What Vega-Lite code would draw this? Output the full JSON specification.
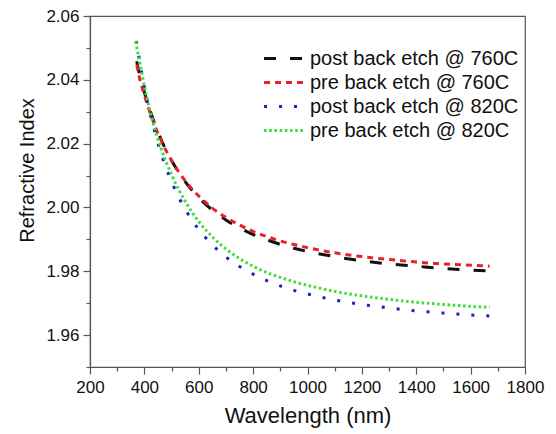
{
  "$schema": "https://vega.github.io/schema/vega-lite/v6.json",
  "width": 435,
  "height": 351,
  "autosize": {"type": "none"},
  "padding": {"left": 90, "top": 16, "right": 31, "bottom": 67},
  "background": "white",
  "config": {
    "font": "Liberation Sans",
    "view": {"stroke": "#555555", "strokeWidth": 1.2},
    "axis": {
      "grid": false,
      "domainColor": "#555555",
      "domainWidth": 1.2,
      "tickColor": "#555555",
      "tickWidth": 1.2,
      "labelColor": "#111111",
      "titleColor": "#111111",
      "labelFont": "Liberation Sans",
      "titleFont": "Liberation Sans",
      "titleFontWeight": "normal",
      "labelOverlap": false,
      "labelFlush": false
    },
    "legend": {
      "labelFont": "Liberation Sans",
      "labelFontSize": 20,
      "labelColor": "#111111",
      "labelLimit": 0,
      "symbolType": "M-1.63,0H1.63",
      "symbolSize": 600,
      "symbolStrokeWidth": 3,
      "symbolFillColor": "transparent",
      "labelOffset": 12,
      "rowPadding": 0,
      "padding": 0
    }
  },
  "data": {
    "values": [
      {"series": "post back etch @ 760C", "wl": 372, "n": 2.0458},
      {"series": "post back etch @ 760C", "wl": 380, "n": 2.0425},
      {"series": "post back etch @ 760C", "wl": 390, "n": 2.0392},
      {"series": "post back etch @ 760C", "wl": 400, "n": 2.0361},
      {"series": "post back etch @ 760C", "wl": 420, "n": 2.0306},
      {"series": "post back etch @ 760C", "wl": 440, "n": 2.0258},
      {"series": "post back etch @ 760C", "wl": 460, "n": 2.0216},
      {"series": "post back etch @ 760C", "wl": 480, "n": 2.0179},
      {"series": "post back etch @ 760C", "wl": 500, "n": 2.0147},
      {"series": "post back etch @ 760C", "wl": 525, "n": 2.0112},
      {"series": "post back etch @ 760C", "wl": 550, "n": 2.0081},
      {"series": "post back etch @ 760C", "wl": 575, "n": 2.0054},
      {"series": "post back etch @ 760C", "wl": 600, "n": 2.0031},
      {"series": "post back etch @ 760C", "wl": 650, "n": 1.9992},
      {"series": "post back etch @ 760C", "wl": 700, "n": 1.9961},
      {"series": "post back etch @ 760C", "wl": 750, "n": 1.9936},
      {"series": "post back etch @ 760C", "wl": 800, "n": 1.9915},
      {"series": "post back etch @ 760C", "wl": 850, "n": 1.9899},
      {"series": "post back etch @ 760C", "wl": 900, "n": 1.9884},
      {"series": "post back etch @ 760C", "wl": 950, "n": 1.9872},
      {"series": "post back etch @ 760C", "wl": 1000, "n": 1.9862},
      {"series": "post back etch @ 760C", "wl": 1100, "n": 1.9846},
      {"series": "post back etch @ 760C", "wl": 1200, "n": 1.9833},
      {"series": "post back etch @ 760C", "wl": 1300, "n": 1.9823},
      {"series": "post back etch @ 760C", "wl": 1400, "n": 1.9816},
      {"series": "post back etch @ 760C", "wl": 1500, "n": 1.9809},
      {"series": "post back etch @ 760C", "wl": 1600, "n": 1.9804},
      {"series": "post back etch @ 760C", "wl": 1680, "n": 1.9801},

      {"series": "pre back etch @ 760C", "wl": 372, "n": 2.0448},
      {"series": "pre back etch @ 760C", "wl": 380, "n": 2.0413},
      {"series": "pre back etch @ 760C", "wl": 390, "n": 2.0381},
      {"series": "pre back etch @ 760C", "wl": 400, "n": 2.0352},
      {"series": "pre back etch @ 760C", "wl": 420, "n": 2.0299},
      {"series": "pre back etch @ 760C", "wl": 440, "n": 2.0253},
      {"series": "pre back etch @ 760C", "wl": 460, "n": 2.0213},
      {"series": "pre back etch @ 760C", "wl": 480, "n": 2.0178},
      {"series": "pre back etch @ 760C", "wl": 500, "n": 2.0147},
      {"series": "pre back etch @ 760C", "wl": 525, "n": 2.0113},
      {"series": "pre back etch @ 760C", "wl": 550, "n": 2.0084},
      {"series": "pre back etch @ 760C", "wl": 575, "n": 2.0058},
      {"series": "pre back etch @ 760C", "wl": 600, "n": 2.0036},
      {"series": "pre back etch @ 760C", "wl": 650, "n": 1.9998},
      {"series": "pre back etch @ 760C", "wl": 700, "n": 1.9969},
      {"series": "pre back etch @ 760C", "wl": 750, "n": 1.9945},
      {"series": "pre back etch @ 760C", "wl": 800, "n": 1.9925},
      {"series": "pre back etch @ 760C", "wl": 850, "n": 1.9909},
      {"series": "pre back etch @ 760C", "wl": 900, "n": 1.9895},
      {"series": "pre back etch @ 760C", "wl": 950, "n": 1.9884},
      {"series": "pre back etch @ 760C", "wl": 1000, "n": 1.9874},
      {"series": "pre back etch @ 760C", "wl": 1100, "n": 1.9858},
      {"series": "pre back etch @ 760C", "wl": 1200, "n": 1.9846},
      {"series": "pre back etch @ 760C", "wl": 1300, "n": 1.9837},
      {"series": "pre back etch @ 760C", "wl": 1400, "n": 1.9829},
      {"series": "pre back etch @ 760C", "wl": 1500, "n": 1.9823},
      {"series": "pre back etch @ 760C", "wl": 1600, "n": 1.9819},
      {"series": "pre back etch @ 760C", "wl": 1670, "n": 1.9816},

      {"series": "post back etch @ 820C", "wl": 370, "n": 2.0522},
      {"series": "post back etch @ 820C", "wl": 380, "n": 2.0472},
      {"series": "post back etch @ 820C", "wl": 390, "n": 2.0423},
      {"series": "post back etch @ 820C", "wl": 400, "n": 2.0377},
      {"series": "post back etch @ 820C", "wl": 420, "n": 2.0298},
      {"series": "post back etch @ 820C", "wl": 440, "n": 2.0231},
      {"series": "post back etch @ 820C", "wl": 460, "n": 2.0173},
      {"series": "post back etch @ 820C", "wl": 480, "n": 2.0124},
      {"series": "post back etch @ 820C", "wl": 500, "n": 2.0081},
      {"series": "post back etch @ 820C", "wl": 525, "n": 2.0034},
      {"series": "post back etch @ 820C", "wl": 550, "n": 1.9995},
      {"series": "post back etch @ 820C", "wl": 575, "n": 1.9961},
      {"series": "post back etch @ 820C", "wl": 600, "n": 1.9931},
      {"series": "post back etch @ 820C", "wl": 650, "n": 1.9883},
      {"series": "post back etch @ 820C", "wl": 700, "n": 1.9845},
      {"series": "post back etch @ 820C", "wl": 750, "n": 1.9815},
      {"series": "post back etch @ 820C", "wl": 800, "n": 1.9791},
      {"series": "post back etch @ 820C", "wl": 850, "n": 1.9771},
      {"series": "post back etch @ 820C", "wl": 900, "n": 1.9754},
      {"series": "post back etch @ 820C", "wl": 950, "n": 1.9740},
      {"series": "post back etch @ 820C", "wl": 1000, "n": 1.9729},
      {"series": "post back etch @ 820C", "wl": 1100, "n": 1.9710},
      {"series": "post back etch @ 820C", "wl": 1200, "n": 1.9696},
      {"series": "post back etch @ 820C", "wl": 1300, "n": 1.9685},
      {"series": "post back etch @ 820C", "wl": 1400, "n": 1.9676},
      {"series": "post back etch @ 820C", "wl": 1500, "n": 1.9669},
      {"series": "post back etch @ 820C", "wl": 1600, "n": 1.9663},
      {"series": "post back etch @ 820C", "wl": 1690, "n": 1.9659},

      {"series": "pre back etch @ 820C", "wl": 368, "n": 2.0520},
      {"series": "pre back etch @ 820C", "wl": 380, "n": 2.0467},
      {"series": "pre back etch @ 820C", "wl": 390, "n": 2.0423},
      {"series": "pre back etch @ 820C", "wl": 400, "n": 2.0380},
      {"series": "pre back etch @ 820C", "wl": 420, "n": 2.0305},
      {"series": "pre back etch @ 820C", "wl": 440, "n": 2.0242},
      {"series": "pre back etch @ 820C", "wl": 460, "n": 2.0188},
      {"series": "pre back etch @ 820C", "wl": 480, "n": 2.0143},
      {"series": "pre back etch @ 820C", "wl": 500, "n": 2.0103},
      {"series": "pre back etch @ 820C", "wl": 525, "n": 2.0058},
      {"series": "pre back etch @ 820C", "wl": 550, "n": 2.0020},
      {"series": "pre back etch @ 820C", "wl": 575, "n": 1.9986},
      {"series": "pre back etch @ 820C", "wl": 600, "n": 1.9956},
      {"series": "pre back etch @ 820C", "wl": 650, "n": 1.9908},
      {"series": "pre back etch @ 820C", "wl": 700, "n": 1.9870},
      {"series": "pre back etch @ 820C", "wl": 750, "n": 1.9840},
      {"series": "pre back etch @ 820C", "wl": 800, "n": 1.9816},
      {"series": "pre back etch @ 820C", "wl": 850, "n": 1.9796},
      {"series": "pre back etch @ 820C", "wl": 900, "n": 1.9781},
      {"series": "pre back etch @ 820C", "wl": 950, "n": 1.9767},
      {"series": "pre back etch @ 820C", "wl": 1000, "n": 1.9756},
      {"series": "pre back etch @ 820C", "wl": 1100, "n": 1.9737},
      {"series": "pre back etch @ 820C", "wl": 1200, "n": 1.9723},
      {"series": "pre back etch @ 820C", "wl": 1300, "n": 1.9712},
      {"series": "pre back etch @ 820C", "wl": 1400, "n": 1.9703},
      {"series": "pre back etch @ 820C", "wl": 1500, "n": 1.9696},
      {"series": "pre back etch @ 820C", "wl": 1600, "n": 1.9690},
      {"series": "pre back etch @ 820C", "wl": 1670, "n": 1.9687}
    ]
  },
  "layer": [
    {
      "mark": {"type": "line", "interpolate": "monotone", "opacity": 0},
      "encoding": {
        "x": {
          "field": "wl", "type": "quantitative",
          "scale": {"domain": [200, 1800], "nice": false, "zero": false},
          "axis": {"orient": "bottom", "values": [300, 500, 700, 900, 1100, 1300, 1500, 1700], "labels": false, "domain": false, "tickSize": 4, "title": null}
        },
        "y": {
          "field": "n", "type": "quantitative",
          "scale": {"domain": [1.95, 2.06], "nice": false, "zero": false},
          "axis": {"orient": "left", "values": [1.95, 1.97, 1.99, 2.01, 2.03, 2.05], "labels": false, "domain": false, "tickSize": 4, "title": null}
        },
        "detail": {"field": "series"}
      }
    },
    {
      "mark": {"type": "line", "interpolate": "monotone", "strokeCap": "butt"},
      "encoding": {
        "x": {
          "field": "wl", "type": "quantitative",
          "scale": {"domain": [200, 1800], "nice": false, "zero": false},
          "axis": {"orient": "bottom", "values": [200, 400, 600, 800, 1000, 1200, 1400, 1600, 1800], "format": "d", "labelFontSize": 17, "tickSize": 7, "labelPadding": 5, "title": "Wavelength (nm)", "titleFontSize": 22, "titlePadding": 10}
        },
        "y": {
          "field": "n", "type": "quantitative",
          "scale": {"domain": [1.95, 2.06], "nice": false, "zero": false},
          "axis": {"orient": "left", "values": [1.96, 1.98, 2.0, 2.02, 2.04, 2.06], "format": ".2f", "labelFontSize": 17, "tickSize": 7, "labelPadding": 4, "title": "Refractive Index", "titleFontSize": 20, "titlePadding": 8, "titleY": 154}
        },
        "color": {
          "field": "series", "type": "nominal",
          "scale": {
            "domain": ["post back etch @ 760C", "pre back etch @ 760C", "post back etch @ 820C", "pre back etch @ 820C"],
            "range": ["#111111", "#e8202a", "#2020c0", "#3cdc3c"]
          },
          "legend": {"title": null, "orient": "none", "legendX": 180, "legendY": 28.5}
        },
        "strokeDash": {
          "field": "series", "type": "nominal",
          "scale": {
            "domain": ["post back etch @ 760C", "pre back etch @ 760C", "post back etch @ 820C", "pre back etch @ 820C"],
            "range": [[12, 14], [6, 5], [3, 12], [2.5, 2.7]]
          },
          "legend": {"title": null, "orient": "none", "legendX": 180, "legendY": 28.5}
        },
        "strokeWidth": {
          "field": "series", "type": "nominal",
          "scale": {
            "domain": ["post back etch @ 760C", "pre back etch @ 760C", "post back etch @ 820C", "pre back etch @ 820C"],
            "range": [3, 3, 3.5, 2.5]
          },
          "legend": null
        }
      }
    }
  ],
  "resolve": {"axis": {"x": "independent", "y": "independent"}}
}
